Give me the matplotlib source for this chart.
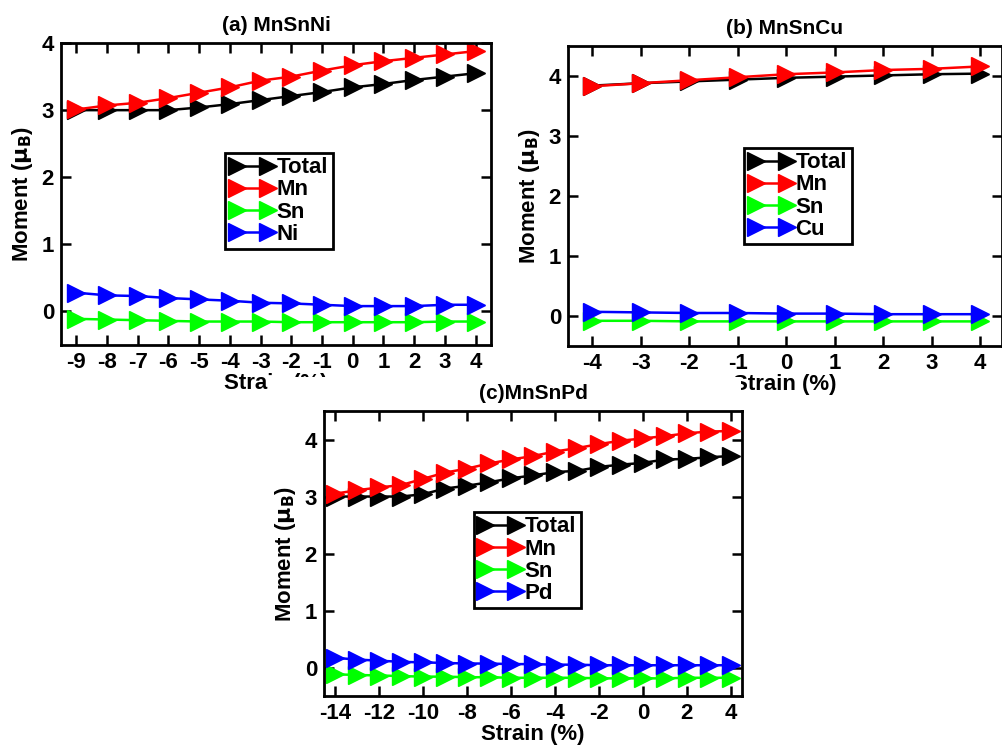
import matplotlib
matplotlib.use("Agg")
import matplotlib.pyplot as plt
from matplotlib.patches import Rectangle

plt.rcParams['font.family'] = ['Liberation Sans', 'DejaVu Sans']
plt.rcParams['font.weight'] = 'bold'
plt.rcParams['mathtext.fontset'] = 'dejavusans'
plt.rcParams['axes.unicode_minus'] = False

# (a) MnSnNi
strain_a = [-9, -8, -7, -6, -5, -4, -3, -2, -1, 0, 1, 2, 3, 4]
total_a = [3.00, 3.00, 3.00, 3.00, 3.04, 3.09, 3.15, 3.21, 3.27, 3.34, 3.39, 3.45, 3.50, 3.55]
mn_a = [3.01, 3.07, 3.11, 3.18, 3.26, 3.34, 3.44, 3.50, 3.59, 3.67, 3.73, 3.78, 3.83, 3.88]
sn_a = [-0.11, -0.12, -0.13, -0.14, -0.15, -0.15, -0.15, -0.16, -0.16, -0.16, -0.16, -0.16, -0.15, -0.15]
ni_a = [0.28, 0.24, 0.23, 0.20, 0.18, 0.16, 0.13, 0.12, 0.10, 0.08, 0.08, 0.08, 0.10, 0.10]

# (b) MnSnCu
strain_b = [-4, -3, -2, -1, 0, 1, 2, 3, 4]
total_b = [3.84, 3.88, 3.91, 3.94, 3.97, 3.99, 4.01, 4.03, 4.04]
mn_b = [3.83, 3.88, 3.93, 3.98, 4.03, 4.06, 4.10, 4.12, 4.16]
sn_b = [-0.08, -0.08, -0.09, -0.09, -0.09, -0.09, -0.09, -0.09, -0.09]
cu_b = [0.07, 0.06, 0.05, 0.05, 0.04, 0.04, 0.03, 0.03, 0.03]

# (c) MnSnPd
strain_c = [-14, -13, -12, -11, -10, -9, -8, -7, -6, -5, -4, -3, -2, -1, 0, 1, 2, 3, 4]
total_c = [3.00, 3.00, 3.00, 3.00, 3.04, 3.14, 3.19, 3.25, 3.32, 3.37, 3.43, 3.45,
           3.52, 3.56, 3.59, 3.65, 3.66, 3.69, 3.71]
mn_c = [3.05, 3.11, 3.16, 3.20, 3.31, 3.42, 3.49, 3.58, 3.65, 3.71, 3.79, 3.85,
        3.92, 3.98, 4.02, 4.06, 4.11, 4.14, 4.15]
sn_c = [-0.12, -0.13, -0.14, -0.15, -0.16, -0.16, -0.17, -0.17, -0.18, -0.18, -0.18,
        -0.18, -0.19, -0.19, -0.19, -0.19, -0.18, -0.18, -0.18]
pd_c = [0.17, 0.14, 0.12, 0.10, 0.09, 0.08, 0.07, 0.07, 0.06, 0.06, 0.05, 0.05,
        0.04, 0.04, 0.04, 0.04, 0.04, 0.04, 0.04]

colors = ['black', '#ff0000', '#00ff00', '#0000ff']


def panel(ax, x, series, labels, title, xlim, ylim, xticks, yticks, leg_pos):
    for y, lab, c in zip(series, labels, colors):
        ax.plot(x, y, color=c, lw=1.8, marker='>', ms=13, mec=c, mfc=c, label=lab)
    ax.set_xlim(*xlim)
    ax.set_ylim(*ylim)
    ax.set_xticks(xticks)
    ax.set_yticks(yticks)
    ax.tick_params(direction='in', length=7, width=1.8, top=True, right=True,
                   labelsize=16, pad=5)
    for s in ax.spines.values():
        s.set_linewidth(2)
    ax.set_title(title, fontsize=15, fontweight='bold', pad=9)
    ax.set_xlabel('Strain (%)', fontsize=16, fontweight='bold', labelpad=0)
    ax.set_ylabel(r'Moment ($\mathrm{\mu_B}$)', fontsize=16, fontweight='bold', labelpad=5)
    leg = ax.legend(loc='center', bbox_to_anchor=leg_pos, fontsize=16, frameon=True,
                    fancybox=False, edgecolor='black', framealpha=1, handlelength=2.0,
                    numpoints=2, handletextpad=0.1, labelspacing=0.05, borderpad=0.2,
                    borderaxespad=0)
    leg.get_frame().set_linewidth(2)


fig = plt.figure(figsize=(10.03, 7.46), dpi=100)
ax_a = fig.add_axes([0.0608, 0.5375, 0.4287, 0.4048])
ax_b = fig.add_axes([0.5663, 0.5362, 0.4327, 0.4021])
ax_c = fig.add_axes([0.3230, 0.0670, 0.4167, 0.3820])

panel(ax_a, strain_a, [total_a, mn_a, sn_a, ni_a], ['Total', 'Mn', 'Sn', 'Ni'],
      '(a) MnSnNi', (-9.5, 4.5), (-0.5, 4), strain_a, [0, 1, 2, 3, 4], (0.507, 0.477))
panel(ax_b, strain_b, [total_b, mn_b, sn_b, cu_b], ['Total', 'Mn', 'Sn', 'Cu'],
      '(b) MnSnCu', (-4.5, 4.45), (-0.5, 4.5), strain_b, [0, 1, 2, 3, 4], (0.53, 0.50))
panel(ax_c, strain_c, [total_c, mn_c, sn_c, pd_c], ['Total', 'Mn', 'Sn', 'Pd'],
      '(c)MnSnPd', (-14.5, 4.5), (-0.5, 4.5), list(range(-14, 5, 2)), [0, 1, 2, 3, 4],
      (0.486, 0.477))

# panel (c) sits on top of the others and hides part of their x labels
fig.add_artist(Rectangle((268 / 1003, 0), (741 - 268) / 1003, 1 - 377 / 746,
                         transform=fig.transFigure, facecolor='white',
                         edgecolor='none', zorder=1))
ax_c.set_zorder(2)

fig.savefig('out.png', dpi=100)
